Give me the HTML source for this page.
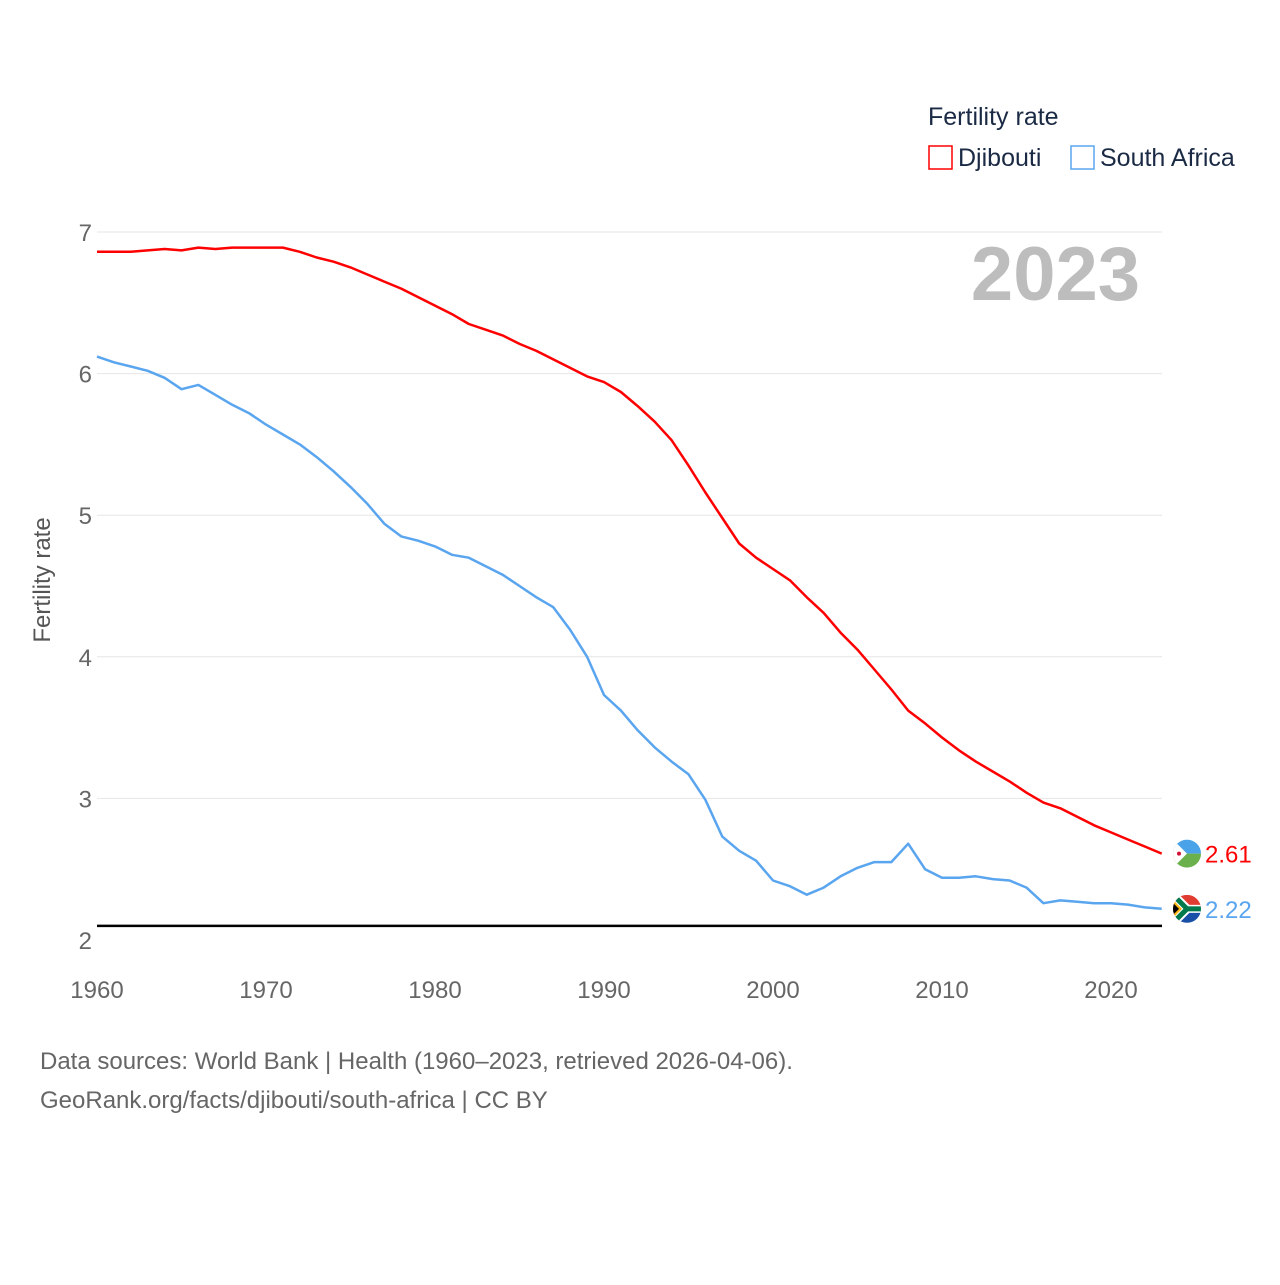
<!DOCTYPE html>
<html><head><meta charset="utf-8"><style>
body{margin:0;background:#fff;font-family:"Liberation Sans",sans-serif;}
svg text{font-family:"Liberation Sans",sans-serif;}
</style></head><body>
<svg id="chart" width="1280" height="1280" xmlns="http://www.w3.org/2000/svg">
<rect width="1280" height="1280" fill="#fff"/>
<g id="grid"></g>
<g id="ticks"></g>
<text x="1140" y="300" text-anchor="end" font-size="76" font-weight="bold" fill="#bdbdbd">2023</text>
<text transform="translate(50,580) rotate(-90)" text-anchor="middle" font-size="24" fill="#555">Fertility rate</text>
<line id="refline" x1="97" x2="1162" stroke="#000" stroke-width="2.5"/>
<g id="series"></g>
<g>
<text x="928" y="125" font-size="25" fill="#1a2a44">Fertility rate</text>
<rect x="929" y="146" width="23" height="23" fill="none" stroke="#f00" stroke-width="1.5"/>
<text x="958" y="166" font-size="25" fill="#1a2a44">Djibouti</text>
<rect x="1071" y="146" width="23" height="23" fill="none" stroke="#5aa5ef" stroke-width="1.5"/>
<text x="1100" y="166" font-size="25" fill="#1a2a44">South Africa</text>
</g>
<text x="40" y="1069" font-size="24" fill="#666">Data sources: World Bank | Health (1960–2023, retrieved 2026-04-06).</text>
<text x="40" y="1108" font-size="24" fill="#666">GeoRank.org/facts/djibouti/south-africa | CC BY</text>
</svg>
<script>
const years = [];for(let y=1960;y<=2023;y++)years.push(y);
const djibouti = [6.86,6.86,6.86,6.87,6.88,6.87,6.89,6.88,6.89,6.89,6.89,6.89,6.86,6.82,6.79,6.75,6.70,6.65,6.60,6.54,6.48,6.42,6.35,6.31,6.27,6.21,6.16,6.10,6.04,5.98,5.94,5.87,5.77,5.66,5.53,5.35,5.16,4.98,4.80,4.70,4.62,4.54,4.42,4.31,4.17,4.05,3.91,3.77,3.62,3.53,3.43,3.34,3.26,3.19,3.12,3.04,2.97,2.93,2.87,2.81,2.76,2.71,2.66,2.61];
const southAfrica = [6.12,6.08,6.05,6.02,5.97,5.89,5.92,5.85,5.78,5.72,5.64,5.57,5.50,5.41,5.31,5.20,5.08,4.94,4.85,4.82,4.78,4.72,4.70,4.64,4.58,4.50,4.42,4.35,4.19,4.00,3.73,3.62,3.48,3.36,3.26,3.17,2.99,2.73,2.63,2.56,2.42,2.38,2.32,2.37,2.45,2.51,2.55,2.55,2.68,2.50,2.44,2.44,2.45,2.43,2.42,2.37,2.26,2.28,2.27,2.26,2.26,2.25,2.23,2.22];
const yTicks = [2,3,4,5,6,7];
const xTicks = [1960,1970,1980,1990,2000,2010,2020];
const replacement = 2.1;
const NS="http://www.w3.org/2000/svg";
const X=y=>97+(y-1960)*(1014/60);
const Y=v=>232+(7-v)*141.6;
const grid=document.getElementById('grid'),ticks=document.getElementById('ticks'),series=document.getElementById('series');
function mk(t,a,p){const e=document.createElementNS(NS,t);for(const k in a)e.setAttribute(k,a[k]);p.appendChild(e);return e;}
yTicks.forEach(v=>{
  if(v>2){const l=mk('line',{x1:97,x2:1162,y1:Y(v),y2:Y(v),stroke:'#e6e6e6','stroke-width':1},grid);
  
  }
  const t=mk('text',{x:92,y:Y(v)+9,'text-anchor':'end','font-size':24,fill:'#666'},ticks);t.textContent=v;
  
  
});
xTicks.forEach(v=>{
  const t=mk('text',{x:X(v),y:998,'text-anchor':'middle','font-size':24,fill:'#666'},ticks);t.textContent=v;
  
  
});
const rl=document.getElementById('refline');rl.setAttribute('y1',Y(replacement));rl.setAttribute('y2',Y(replacement));
let fid=0;
function flag(cy,kind,name){
  const cx=1187,r=14;fid++;
  const defs=mk('defs',{},series);
  const cp=mk('clipPath',{id:'fc'+fid},defs);
  mk('circle',{cx:cx,cy:cy,r:r},cp);
  const g=mk('g',{'clip-path':'url(#fc'+fid+')'},series);
  
  
  if(kind==='dj'){
    mk('rect',{x:cx-r,y:cy-r,width:2*r,height:r,fill:'#4aa3e8'},g);
    mk('rect',{x:cx-r,y:cy,width:2*r,height:r,fill:'#6ab04c'},g);
    mk('path',{d:`M${cx-r},${cy-r}L${cx},${cy}L${cx-r},${cy+r}Z`,fill:'#fff'},g);
    mk('circle',{cx:cx-8,cy:cy,r:2,fill:'#d21034'},g);
  }else{
    mk('rect',{x:cx-r,y:cy-r,width:2*r,height:r,fill:'#e03c31'},g);
    mk('rect',{x:cx-r,y:cy,width:2*r,height:r,fill:'#1a4fa8'},g);
    mk('path',{d:`M${cx-r},${cy-r}L${cx},${cy}L${cx-r},${cy+r}`,fill:'none',stroke:'#fff',"stroke-width":9},g);
    mk('rect',{x:cx-2,y:cy-4,width:r+2,height:8,fill:'#fff'},g);
    mk('path',{d:`M${cx-r},${cy-r}L${cx},${cy}L${cx-r},${cy+r}`,fill:'none',stroke:'#007a4d',"stroke-width":5},g);
    mk('rect',{x:cx,y:cy-2.5,width:r,height:5,fill:'#007a4d'},g);
    mk('path',{d:`M${cx-r},${cy-9}L${cx-5},${cy}L${cx-r},${cy+9}Z`,fill:'#ffb612'},g);
    mk('path',{d:`M${cx-r},${cy-6}L${cx-8},${cy}L${cx-r},${cy+6}Z`,fill:'#000'},g);
  }
}
function line(arr,col,name,kind){
  const d=arr.map((v,i)=>(i?'L':'M')+X(years[i]).toFixed(1)+','+Y(v).toFixed(1)).join('');
  const p=mk('path',{d:d,fill:'none',stroke:col,'stroke-width':2.5,'stroke-linejoin':'round'},series);
  
  
  const last=arr[arr.length-1],cy=Y(last);
  flag(cy,kind,name);
  const t=mk('text',{x:1205,y:cy+9,'font-size':24,fill:col},series);t.textContent=last.toFixed(2);
  
  
}
line(djibouti,'#ff0000','djibouti-line','dj');
line(southAfrica,'#5aa5ef','south-africa-line','za');
</script>
</body></html>
